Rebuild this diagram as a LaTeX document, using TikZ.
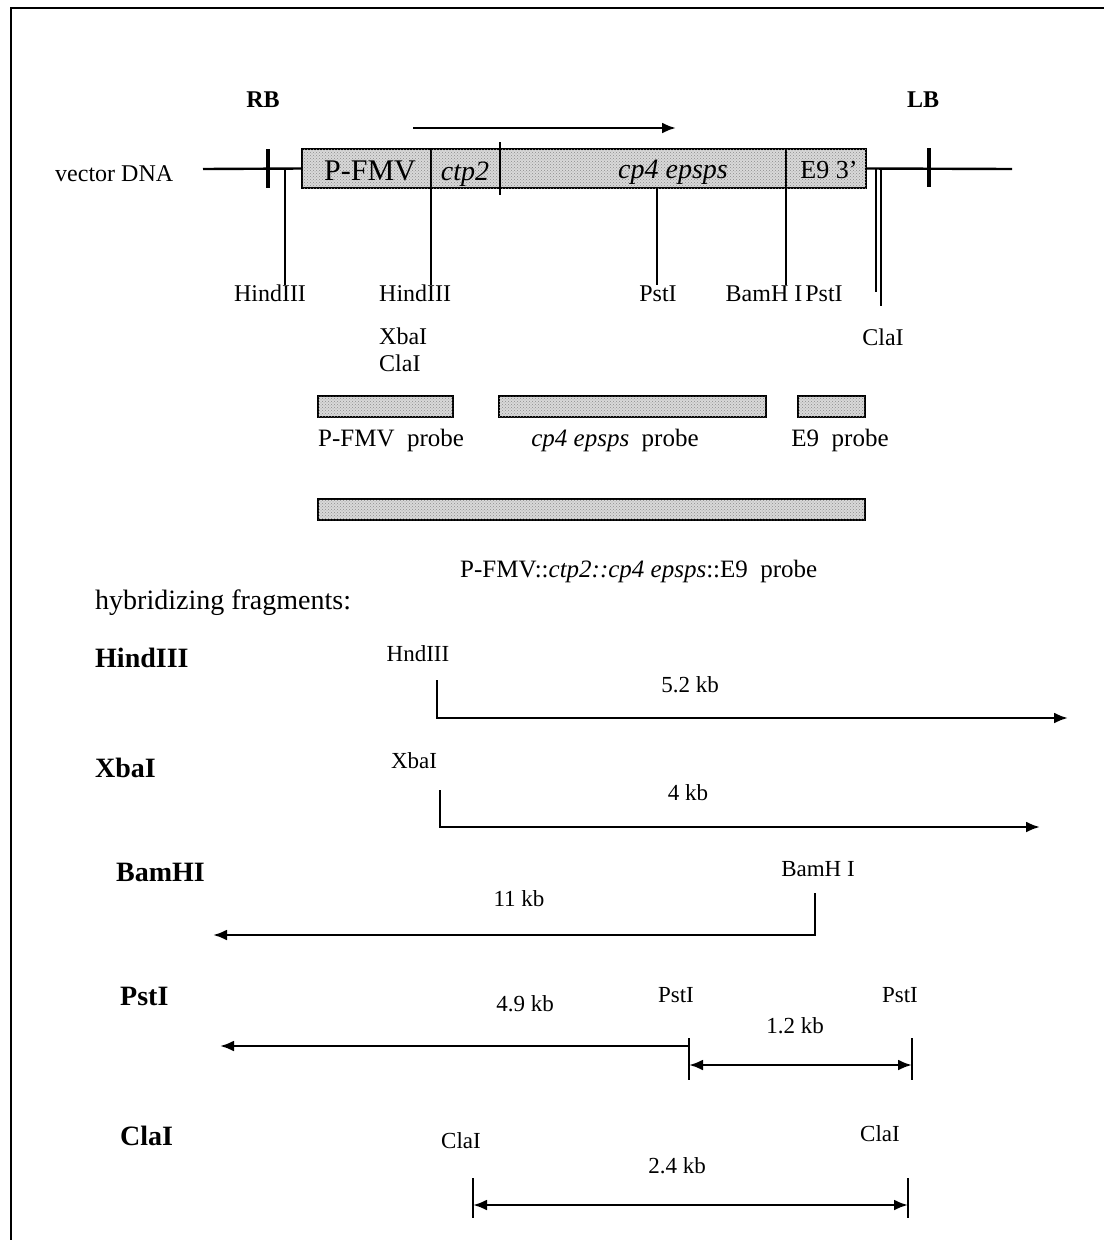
\documentclass[tikz,border=0pt]{standalone}
\usepackage{fontspec}
\setmainfont{Liberation Serif}
\usetikzlibrary{arrows.meta,patterns}
\begin{document}
\begin{tikzpicture}[x=1pt,y=-1pt,
  ln/.style={line width=2.4pt},
  tick/.style={line width=4.5pt},
  seg/.style={draw, line width=2.6pt, fill=black!15,
    postaction={pattern=crosshatch dots, pattern color=black!45},
    inner sep=0pt, outer sep=0pt, anchor=north west},
  probe/.style={seg, line width=2.8pt},
  arr/.style={line width=2.6pt, -{Latex[length=14pt,width=11pt]}},
  darr/.style={line width=2.6pt, {Latex[length=14pt,width=11pt]}-{Latex[length=14pt,width=11pt]}},
  lab/.style={font=\fontsize{24}{29}\selectfont, inner sep=0pt, anchor=base},
  boxt/.style={font=\fontsize{28}{32}\selectfont, inner sep=0pt, anchor=base},
  blab/.style={font=\fontsize{28}{32}\selectfont\bfseries, inner sep=0pt, anchor=base west},
  rlab/.style={font=\fontsize{24}{28}\selectfont\bfseries, inner sep=0pt, anchor=base},
  flab/.style={font=\fontsize{23}{28}\selectfont, inner sep=0pt, anchor=base}
]
\useasboundingbox (0,0) rectangle (1104,1240);
% frame
\draw[line width=1.6pt] (11,1240) -- (11,8) -- (1104,8);

% ---------- construct map ----------
\node[rlab] (rb) at (263,107) {RB};
\node[rlab] (lb) at (923,107) {LB};
\node[lab, anchor=base west] (vec) at (55,181) {vector DNA};

\node[seg, minimum width=129pt, minimum height=39pt] (pfmv) at (302,149) {};
\node[seg, minimum width=69pt, minimum height=39pt] (ctp) at (431,149) {};
\node[seg, minimum width=286pt, minimum height=39pt] (cp4) at (500,149) {};
\node[seg, minimum width=80pt, minimum height=39pt] (e9) at (786,149) {};

\node[boxt, font=\fontsize{30}{34}\selectfont] (tpfmv) at (370,180) {P-FMV};
\node[boxt, font=\fontsize{28}{32}\selectfont\itshape] (tctp) at (465,180) {ctp2};
\node[boxt, font=\fontsize{28}{32}\selectfont\itshape] (tcp4) at (673,178) {cp4 epsps};
\node[boxt, font=\fontsize{26}{30}\selectfont] (te9) at (829,178) {E9 3'};

\coordinate (dnaL) at (203,169);
\coordinate (dnaR) at (1012,169);
\draw[ln] (dnaL) -- (pfmv.west);
\draw[ln] (e9.east) -- (dnaR);
\coordinate (rbT) at (268,149); \coordinate (rbB) at (268,188);
\draw[tick] (rbT) -- (rbB);
\coordinate (lbT) at (929,148); \coordinate (lbB) at (929,187);
\draw[tick] (lbT) -- (lbB);
\coordinate (divT) at (500,142); \coordinate (divB) at (500,195);
\draw[ln] (divT) -- (divB);

% transcription arrow
\coordinate (trA) at (413,128); \coordinate (trB) at (676,128);
\draw[arr] (trA) -- (trB);

% restriction sites
\coordinate (s1a) at (285,169); \coordinate (s1b) at (285,285);
\coordinate (s2b) at (431,285);
\coordinate (s3a) at (657,188); \coordinate (s3b) at (657,285);
\coordinate (s4b) at (786,285);
\coordinate (s5a) at (876,169); \coordinate (s5b) at (876,292);
\coordinate (s6a) at (881,169); \coordinate (s6b) at (881,306);
\draw[ln] (s1a) -- (s1b);
\draw[ln] (pfmv.south east) -- (s2b);
\draw[ln] (s3a) -- (s3b);
\draw[ln] (cp4.south east) -- (s4b);
\draw[line width=2pt] (s5a) -- (s5b);
\draw[line width=2pt] (s6a) -- (s6b);

\node[lab] (l1) at (270,301) {HindIII};
\node[lab, anchor=base west] (l2) at (379,301) {HindIII};
\node[lab] (l3) at (658,301) {PstI};
\node[lab] (l4) at (764,301) {BamH I};
\node[lab] (l5) at (824,301) {PstI};
\node[lab] (l6) at (883,345) {ClaI};
\node[lab, anchor=base west] (l7) at (379,344) {XbaI};
\node[lab, anchor=base west] (l8) at (379,371) {ClaI};

% ---------- probes ----------
\node[probe, minimum width=135pt, minimum height=21pt] (pr1) at (318,396) {};
\node[probe, minimum width=267pt, minimum height=21pt] (pr2) at (499,396) {};
\node[probe, minimum width=67pt, minimum height=21pt] (pr3) at (798,396) {};
\node[probe, minimum width=547pt, minimum height=21pt] (pr4) at (318,499) {};

\node[lab, font=\fontsize{25}{30}\selectfont, anchor=base west] (pl1) at (318,446) {P-FMV\ \ probe};
\node[lab, font=\fontsize{25}{30}\selectfont] (pl2) at (615,446) {\textit{cp4 epsps}\ \ probe};
\node[lab, font=\fontsize{25}{30}\selectfont] (pl3) at (840,446) {E9\ \ probe};
\node[lab, font=\fontsize{25}{30}\selectfont, anchor=base west] (pl4) at (460,577) {P-FMV::\textit{ctp2::cp4 epsps}::E9\ \ probe};

\node[lab, font=\fontsize{28}{32}\selectfont, anchor=base west] (hyb) at (95,609) {hybridizing fragments:};

% ---------- fragments ----------
% HindIII
\node[blab] (fh) at (95,667) {HindIII};
\node[flab] (fhs) at (418,661) {HndIII};
\node[flab] (fhk) at (690,692) {5.2 kb};
\coordinate (hA) at (437,680); \coordinate (hB) at (437,718); \coordinate (hC) at (1068,718);
\draw[arr] (hA) -- (hB) -- (hC);

% XbaI
\node[blab] (fx) at (95,777) {XbaI};
\node[flab] (fxs) at (414,768) {XbaI};
\node[flab] (fxk) at (688,800) {4 kb};
\coordinate (xA) at (440,790); \coordinate (xB) at (440,827); \coordinate (xC) at (1040,827);
\draw[arr] (xA) -- (xB) -- (xC);

% BamHI
\node[blab] (fb) at (116,881) {BamHI};
\node[flab] (fbs) at (818,876) {BamH I};
\node[flab] (fbk) at (519,906) {11 kb};
\coordinate (bA) at (815,893); \coordinate (bB) at (815,935); \coordinate (bC) at (213,935);
\draw[arr] (bA) -- (bB) -- (bC);

% PstI
\node[blab] (fp) at (120,1005) {PstI};
\node[flab] (fpk1) at (525,1011) {4.9 kb};
\node[flab] (fps1) at (676,1002) {PstI};
\node[flab] (fps2) at (900,1002) {PstI};
\node[flab] (fpk2) at (795,1033) {1.2 kb};
\coordinate (pA) at (689,1038); \coordinate (pB) at (689,1080);
\coordinate (pC) at (912,1038); \coordinate (pD) at (912,1080);
\coordinate (pE) at (689,1046); \coordinate (pF) at (220,1046);
\coordinate (pG) at (689,1065); \coordinate (pH) at (912,1065);
\draw[ln] (pA) -- (pB);
\draw[ln] (pC) -- (pD);
\draw[arr] (pE) -- (pF);
\draw[darr] (pG) -- (pH);

% ClaI
\node[blab] (fc) at (120,1145) {ClaI};
\node[flab] (fcs1) at (461,1148) {ClaI};
\node[flab] (fcs2) at (880,1141) {ClaI};
\node[flab] (fck) at (677,1173) {2.4 kb};
\coordinate (cA) at (473,1178); \coordinate (cB) at (473,1218);
\coordinate (cC) at (908,1178); \coordinate (cD) at (908,1218);
\coordinate (cE) at (473,1205); \coordinate (cF) at (908,1205);
\draw[ln] (cA) -- (cB);
\draw[ln] (cC) -- (cD);
\draw[darr] (cE) -- (cF);
\end{tikzpicture}
\end{document}
